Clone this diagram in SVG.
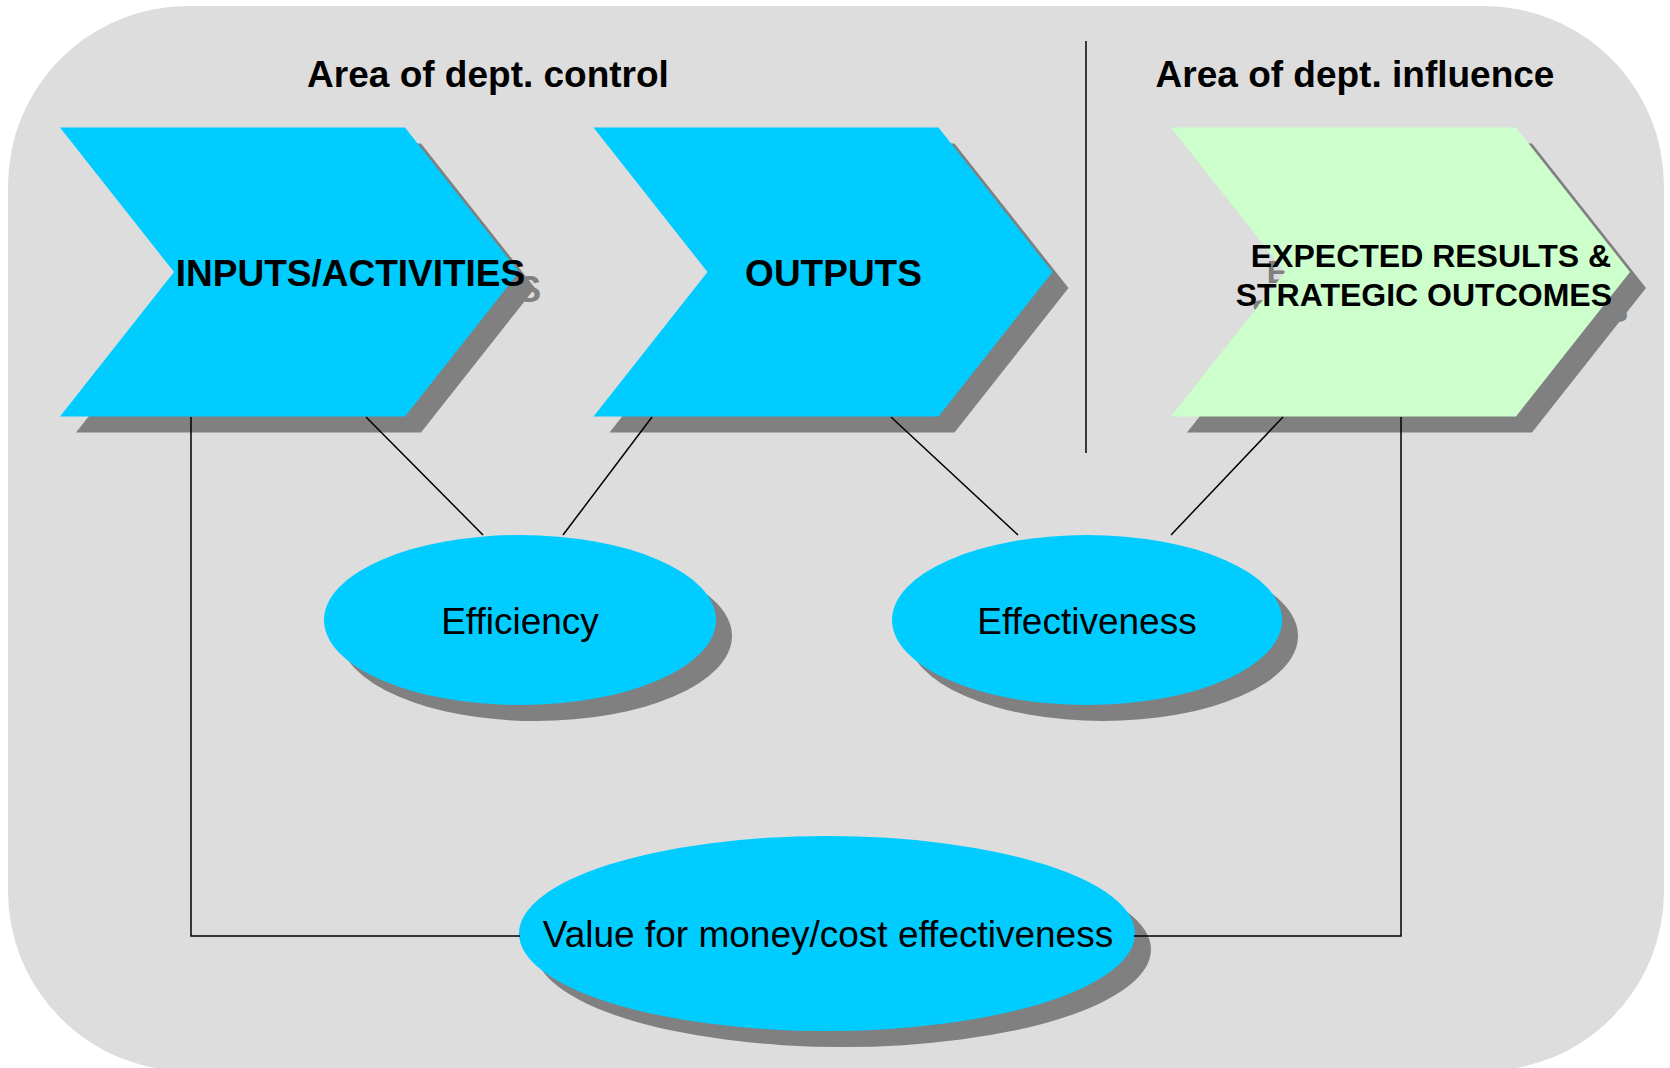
<svg xmlns="http://www.w3.org/2000/svg" width="1670" height="1068" viewBox="0 0 1670 1068">
  <style>
    .panel { fill: #DDDDDD; }
    .shadow { fill: #808080; }
    .blue { fill: #00CCFF; }
    .green { fill: #CCFFCC; }
    .head { font-family: "Liberation Sans", Arial, sans-serif; font-weight: bold; font-size: 37px; fill: #000000; }
    .big { font-family: "Liberation Sans", Arial, sans-serif; font-weight: bold; font-size: 37px; fill: #000000; }
    .big2 { font-family: "Liberation Sans", Arial, sans-serif; font-weight: bold; font-size: 32px; fill: #000000; }
    .lbl { font-family: "Liberation Sans", Arial, sans-serif; font-size: 37px; fill: #000000; }
    .ghost { fill: #808080; }
    .conn { fill: none; stroke: #000000; stroke-width: 1.5; }
  </style>
  <defs>
    <polygon id="chev" points="0,0 345,0 459,144.5 345,289 0,289 114,144.5"/>
  </defs>

  <!-- background panel -->
  <rect class="panel" x="8" y="6" width="1656" height="1065" rx="180" ry="180"/>

  <!-- section headings and divider -->
  <g id="headings">
    <text class="head" x="488" y="87" text-anchor="middle">Area of dept. control</text>
    <text class="head" x="1355" y="87" text-anchor="middle">Area of dept. influence</text>
    <line x1="1086" y1="41" x2="1086" y2="453" stroke="#000000" stroke-width="1.5"/>
  </g>

  <!-- chevron: inputs/activities (label shadow peeks past the tip) -->
  <g id="inputs">
    <use href="#chev" class="shadow" x="76" y="143.5"/>
    <text class="big ghost" x="366.5" y="302" text-anchor="middle">INPUTS/ACTIVITIES</text>
    <use href="#chev" class="blue" x="60" y="127.5"/>
    <text class="big" x="350.5" y="286" text-anchor="middle">INPUTS/ACTIVITIES</text>
  </g>

  <!-- chevron: outputs -->
  <g id="outputs">
    <use href="#chev" class="shadow" x="609.5" y="143.5"/>
    <use href="#chev" class="blue" x="593.5" y="127.5"/>
    <text class="big" x="833.5" y="286" text-anchor="middle">OUTPUTS</text>
  </g>

  <!-- chevron: expected results (label shadow peeks through the notch) -->
  <g id="results">
    <use href="#chev" class="shadow" x="1187" y="143.5"/>
    <text class="big2 ghost" text-anchor="end">
      <tspan x="1636" y="283">EXPECTED RESULTS &amp;</tspan>
      <tspan x="1628" y="322">STRATEGIC OUTCOMES</tspan>
    </text>
    <use href="#chev" class="green" x="1171" y="127.5"/>
    <text class="big2" text-anchor="end">
      <tspan x="1620" y="267">EXPECTED RESULTS &amp;</tspan>
      <tspan x="1612" y="306">STRATEGIC OUTCOMES</tspan>
    </text>
  </g>

  <!-- ellipse: efficiency -->
  <g id="efficiency">
    <ellipse class="shadow" cx="536" cy="636" rx="196" ry="85"/>
    <ellipse class="blue" cx="520" cy="620" rx="196" ry="85"/>
    <text class="lbl" x="520" y="634" text-anchor="middle">Efficiency</text>
  </g>

  <!-- ellipse: effectiveness -->
  <g id="effectiveness">
    <ellipse class="shadow" cx="1103" cy="636" rx="195" ry="85"/>
    <ellipse class="blue" cx="1087" cy="620" rx="195" ry="85"/>
    <text class="lbl" x="1087" y="634" text-anchor="middle">Effectiveness</text>
  </g>

  <!-- ellipse: value for money -->
  <g id="value">
    <ellipse class="shadow" cx="843" cy="949.5" rx="308" ry="97.5"/>
    <ellipse class="blue" cx="827" cy="933.5" rx="308" ry="97.5"/>
    <text class="lbl" x="828" y="947" text-anchor="middle">Value for money/cost effectiveness</text>
  </g>

  <!-- connectors -->
  <g id="connectors">
    <line class="conn" x1="366" y1="417" x2="483" y2="535"/>
    <line class="conn" x1="652" y1="417" x2="563" y2="535"/>
    <line class="conn" x1="891" y1="417" x2="1018" y2="535"/>
    <line class="conn" x1="1283" y1="417" x2="1171" y2="535"/>
    <polyline class="conn" points="191,417 191,936 520,936"/>
    <polyline class="conn" points="1401,417 1401,936 1134,936"/>
  </g>
</svg>
